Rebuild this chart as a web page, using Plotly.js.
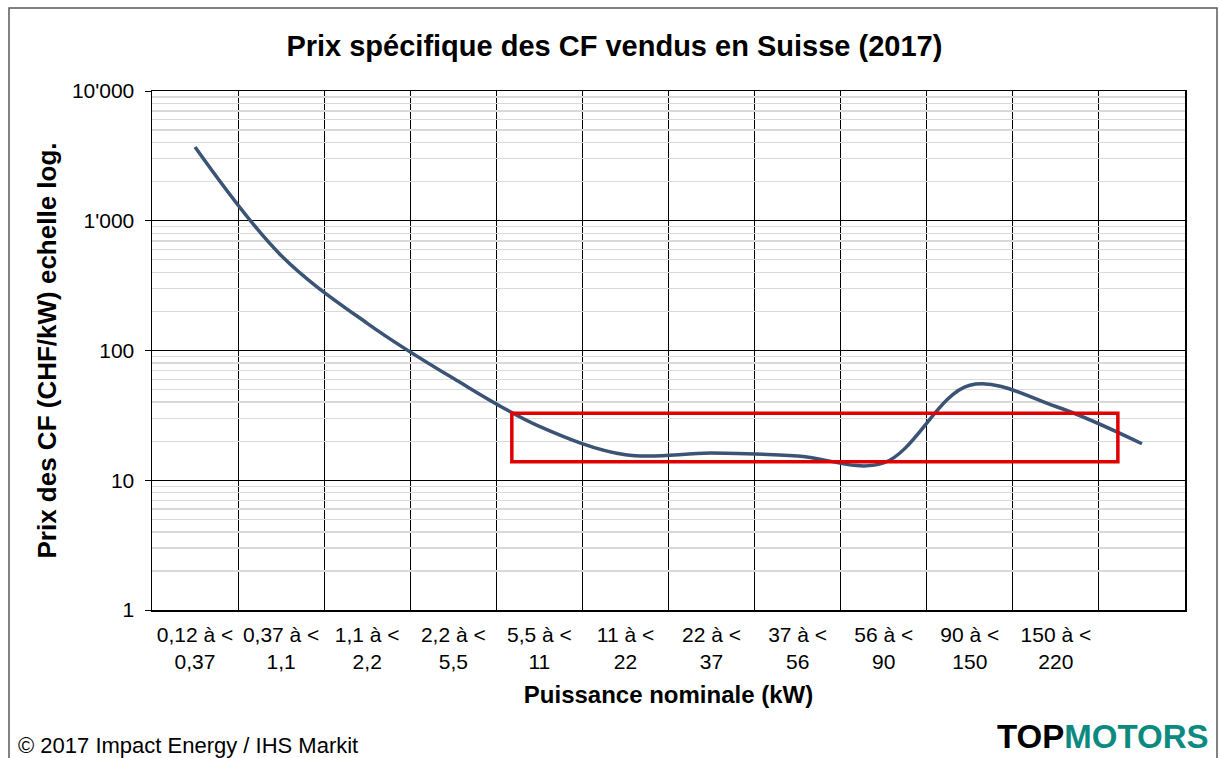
<!DOCTYPE html>
<html>
<head>
<meta charset="utf-8">
<script src="https://cdn.plot.ly/plotly-3.0.1.min.js"></script>
<style>
  html, body { margin: 0; padding: 0; background: #ffffff; }
  #chart { width: 1219px; height: 758px; }
</style>
</head>
<body>
<div id="chart"></div>
<script>
// ---- data ----
const categoryLabels = [
  "0,12 à <<br>0,37", "0,37 à <<br>1,1", "1,1 à <<br>2,2", "2,2 à <<br>5,5",
  "5,5 à <<br>11", "11 à <<br>22", "22 à <<br>37", "37 à <<br>56",
  "56 à <<br>90", "90 à <<br>150", "150 à <<br>220", ""
];
const priceCHFperkW = [3700, 540, 162, 61, 26, 15.7, 16.2, 15.4, 13.6, 54, 37, 19.1];
const yTickValues = [1, 10, 100, 1000, 10000];
const yTickLabels = ["1", "10", "100", "1'000", "10'000"];
// highlighted region (category index span, price span)
const highlightX = [3.68, 10.72];
const highlightY = [13.9, 32.9];

const xIndex = priceCHFperkW.map((_, i) => i);
const labelIdx = categoryLabels.map((_, i) => i).filter(i => categoryLabels[i] !== "");

const FONT = "Liberation Sans, Arial, sans-serif";

const trace = {
  x: xIndex,
  y: priceCHFperkW,
  type: "scatter",
  mode: "lines",
  line: { color: "#3B5375", width: 3.5, shape: "spline", smoothing: 1 },
  hoverinfo: "skip",
  showlegend: false
};

const layout = {
  width: 1219,
  height: 758,
  margin: { l: 152, r: 34, t: 91, b: 148 },
  paper_bgcolor: "#ffffff",
  plot_bgcolor: "#ffffff",
  font: { family: FONT, color: "#000000", size: 21 },
  title: {
    text: "<b>Prix spécifique des CF vendus en Suisse (2017)</b>",
    font: { family: FONT, size: 29, color: "#000000" },
    x: 0.504, xref: "container", xanchor: "center",
    y: 0.94, yref: "container", yanchor: "middle"
  },
  xaxis: {
    type: "linear",
    range: [-0.5, 11.5],
    tickmode: "array",
    tickvals: labelIdx,
    ticktext: labelIdx.map(i => categoryLabels[i]),
    ticks: "",
    ticklabelstandoff: 5,
    showgrid: false,
    zeroline: false,
    showline: true, linecolor: "#000000", linewidth: 1.5, mirror: true,
    tickfont: { family: FONT, size: 21, color: "#000000" },
    minor: { tickmode: "linear", tick0: -0.5, dtick: 1, showgrid: true, gridcolor: "#000000", gridwidth: 1, ticks: "" },
    title: { text: "<b>Puissance nominale (kW)</b>", font: { family: FONT, size: 24, color: "#000000" }, standoff: 14 },
    fixedrange: true
  },
  yaxis: {
    type: "log",
    range: [0, 4],
    tickmode: "array",
    tickvals: yTickValues,
    ticktext: yTickLabels,
    ticks: "outside", ticklen: 6, tickcolor: "#000000", tickwidth: 1,
    ticklabelstandoff: 6,
    showgrid: true, gridcolor: "#000000", gridwidth: 1,
    zeroline: false,
    showline: true, linecolor: "#000000", linewidth: 1.5, mirror: true,
    tickfont: { family: FONT, size: 21, color: "#000000" },
    minor: { dtick: "D1", showgrid: true, gridcolor: "#D9D9D9", gridwidth: 1.3, ticks: "" },
    title: { text: "<b>Prix des CF (CHF/kW) echelle log.</b>", font: { family: FONT, size: 26, color: "#000000" }, standoff: 8 },
    fixedrange: true
  },
  shapes: [
    {
      type: "rect", xref: "x", yref: "y",
      x0: highlightX[0], x1: highlightX[1], y0: highlightY[0], y1: highlightY[1],
      line: { color: "#E00000", width: 3.5 }, fillcolor: "rgba(0,0,0,0)", layer: "above"
    },
    {
      type: "rect", xref: "paper", yref: "paper",
      x0: (9 - 152) / 1033, x1: (1217 - 152) / 1033, y0: -0.4, y1: (610 - 8) / 519,
      line: { color: "#595959", width: 1.5 }, fillcolor: "rgba(0,0,0,0)", layer: "below"
    }
  ],
  annotations: [
    {
      text: "© 2017 Impact Energy / IHS Markit",
      xref: "paper", yref: "paper",
      x: (16 - 152) / 1033, y: (610 - 745) / 519,
      xanchor: "left", yanchor: "middle", showarrow: false,
      font: { family: FONT, size: 22, color: "#000000" }
    },
    {
      text: "<b>TOP</b><b><span style='color:#0B8A80'>MOTORS</span></b>",
      xref: "paper", yref: "paper",
      x: (1210 - 152) / 1033, y: (610 - 736) / 519,
      xanchor: "right", yanchor: "middle", showarrow: false,
      font: { family: FONT, size: 33, color: "#000000" }
    }
  ]
};

Plotly.newPlot("chart", [trace], layout, { displayModeBar: false, staticPlot: true });
</script>
</body>
</html>
